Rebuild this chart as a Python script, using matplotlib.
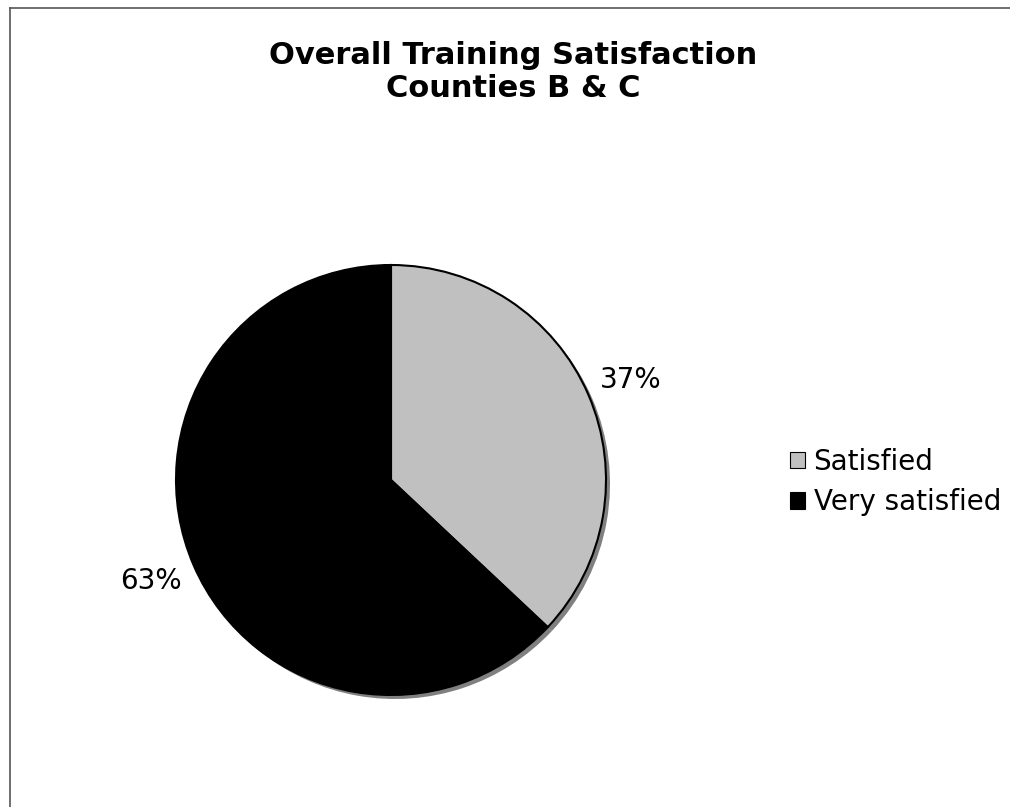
import matplotlib
matplotlib.use("Agg")
import matplotlib.pyplot as plt
from matplotlib.lines import Line2D
from matplotlib.patches import Patch

title_lines = ["Overall Training Satisfaction", "Counties B & C"]
categories = ["Satisfied", "Very satisfied"]
values = [37, 63]
colors = ["#C0C0C0", "#000000"]

W, H = 1010, 807
fig = plt.figure(figsize=(W / 100, H / 100), dpi=100)
ax = fig.add_axes([0, 0, 1, 1])

cx, cy, r = 391, H - 480, 215
label_pos = [(631, H - 380), (151, H - 581)]  # layout: label anchor points (pixels)

# shadow
ax.pie(values, center=(cx + 4, cy - 4), radius=r, startangle=90, counterclock=False,
       colors=["#808080"] * len(values), wedgeprops=dict(linewidth=0), frame=True)
wedges, texts = ax.pie(values, center=(cx, cy), radius=r, startangle=90, counterclock=False,
                       colors=colors, wedgeprops=dict(edgecolor="black", linewidth=1.5),
                       labels=[f"{v}%" for v in values],
                       textprops=dict(fontsize=20, family="DejaVu Sans"), frame=True)
for t, p in zip(texts, label_pos):
    t.set_position(p)
    t.set_ha("center")
    t.set_va("center")

ax.set_xlim(0, W)
ax.set_ylim(0, H)
ax.set_aspect("equal")
ax.axis("off")

# border (top and left)
ax.add_line(Line2D([10, 10], [0, H - 8], color="#555555", linewidth=1.2))
ax.add_line(Line2D([10, W], [H - 8, H - 8], color="#555555", linewidth=1.2))

fig.text(513 / W, 1 - 72 / H, "\n".join(title_lines), ha="center", va="center",
         fontsize=22, fontweight="bold", linespacing=1.2, family="DejaVu Sans")

handles = [Patch(facecolor=c, edgecolor="black", linewidth=0.8) for c in colors]
leg = fig.legend(handles, categories, loc="center left", bbox_to_anchor=(790 / W, 1 - 482 / H),
                 frameon=False, fontsize=20, handlelength=0.55, handleheight=0.55,
                 handletextpad=0.3, labelspacing=0.45, borderaxespad=0, borderpad=0)

fig.savefig("out.png", dpi=100)
